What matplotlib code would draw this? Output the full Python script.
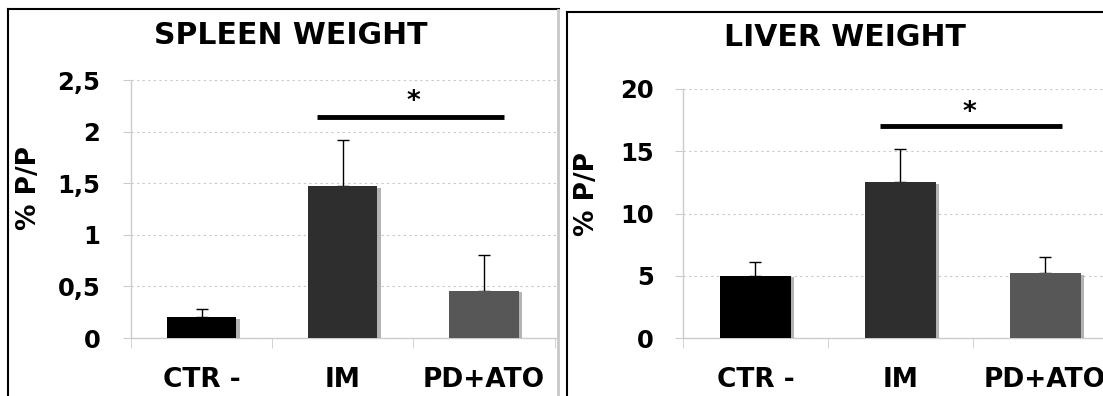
import matplotlib.pyplot as plt
import matplotlib.patheffects as pe
from matplotlib.lines import Line2D

groups = ['CTR -', 'IM', 'PD+ATO']
bar_colors = ['#000000', '#2e2e2e', '#575757']

spleen_mean = [0.20, 1.47, 0.455]
spleen_err = [0.08, 0.45, 0.345]
liver_mean = [5.0, 12.5, 5.2]
liver_err = [1.1, 2.7, 1.3]

spleen_ticks = [0, 0.5, 1, 1.5, 2, 2.5]
spleen_ticklabels = ['0', '0,5', '1', '1,5', '2', '2,5']
liver_ticks = [0, 5, 10, 15, 20]
liver_ticklabels = ['0', '5', '10', '15', '20']

# significance bar: (x start, x end, y)
spleen_sig = (0.82, 2.14, 2.14)
liver_sig = (0.86, 2.12, 17.0)

plt.rcParams['font.family'] = 'DejaVu Sans'
plt.rcParams['font.weight'] = 'bold'

W, H = 1103, 396
fig = plt.figure(figsize=(W / 100, H / 100), dpi=100)

# panel frames (the original picture is cropped at the bottom and right)
fig.add_artist(Line2D([8 / W, 8 / W], [0, 1 - 9 / H], color='black', lw=1.5))
fig.add_artist(Line2D([8 / W, 559 / W], [1 - 9 / H, 1 - 9 / H], color='black', lw=1.5))
fig.add_artist(Line2D([558 / W, 558 / W], [0, 1 - 10 / H], color='#c8c8c8', lw=2))
fig.add_artist(Line2D([567 / W, 567 / W], [0, 1 - 12 / H], color='black', lw=1.5))
fig.add_artist(Line2D([567 / W, 1], [1 - 12 / H, 1 - 12 / H], color='black', lw=1.5))


def draw_panel(rect, title, title_pos, means, errs, ticks, ticklabels, ymax, xmax, sig,
               star_xy, ypad):
    ax = fig.add_axes(rect)
    x = range(len(groups))
    ax.bar(x, means, width=0.49, color=bar_colors, zorder=3,
           path_effects=[pe.SimplePatchShadow(offset=(2.5, -1), shadow_rgbFace='#a0a0a0', alpha=0.8),
                         pe.Normal()])
    ax.errorbar(x, means, yerr=[[0] * len(errs), errs], fmt='none', ecolor='black',
                elinewidth=1, capsize=4, capthick=1, zorder=2)
    ax.set_yticks(ticks)
    ax.set_yticklabels(ticklabels, fontsize=17.5, fontweight='bold')
    ax.set_xticks(list(x))
    ax.set_xticklabels(groups, fontsize=19, fontweight='bold')
    ax.set_xticks([-0.5, 0.5, 1.5, 2.5], minor=True)
    # limits after the ticks, so the tick calls do not widen them
    ax.set_xlim(-0.5, xmax)
    ax.set_ylim(0, ymax)
    ax.tick_params(axis='x', which='major', length=0, pad=21)
    ax.tick_params(axis='x', which='minor', length=7, color='#cccccc', direction='out')
    ax.tick_params(axis='y', length=6, color='#cccccc', pad=ypad)
    for s in ['top', 'right']:
        ax.spines[s].set_visible(False)
    for s in ['left', 'bottom']:
        ax.spines[s].set_color('#cccccc')
        ax.spines[s].set_linewidth(1)
    ax.yaxis.grid(True, linestyle=(0, (2, 3)), color='#c8c8c8', lw=0.8, zorder=0)
    ax.set_axisbelow(True)
    ax.set_ylabel('% P/P', fontsize=19, fontweight='bold')
    ax.plot([sig[0], sig[1]], [sig[2], sig[2]], color='black', lw=3.5,
            solid_capstyle='butt', clip_on=False)
    ax.text(star_xy[0], star_xy[1], '*', ha='center', va='center', fontsize=19, fontweight='bold')
    fig.text(title_pos[0], title_pos[1], title, ha='center', va='center',
             fontsize=21.5, fontweight='bold')
    return ax


ax1 = draw_panel([131 / W, 58 / H, 425 / W, 258 / H], 'SPLEEN WEIGHT', (291 / W, 1 - 36 / H),
                 spleen_mean, spleen_err, spleen_ticks, spleen_ticklabels, 2.5, 2.51,
                 spleen_sig, (1.5, 2.29), 16)
ax1.yaxis.set_label_coords(-0.21, 0.58)

ax2 = draw_panel([683 / W, 58 / H, 420 / W, 249 / H], 'LIVER WEIGHT', (845 / W, 1 - 37.5 / H),
                 liver_mean, liver_err, liver_ticks, liver_ticklabels, 20, 2.4,
                 liver_sig, (1.48, 18.1), 15)
ax2.yaxis.set_label_coords(-0.198, 0.58)

fig.savefig('out.png', dpi=100)
